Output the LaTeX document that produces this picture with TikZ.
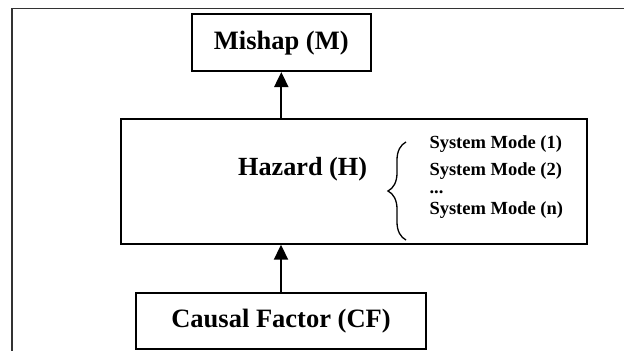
\documentclass[tikz,border=0pt]{standalone}
\usepackage{fontspec}
\setmainfont{Liberation Serif}
\usetikzlibrary{arrows.meta, positioning, decorations.pathreplacing}

\begin{document}
\begin{tikzpicture}[
    x=1pt, y=-1pt,
    box/.style={rectangle, draw, line width=2pt, inner sep=0pt, align=center, font=\bfseries\fontsize{26.5}{30}\selectfont},
    hazardtext/.style={anchor=base west, inner sep=0pt, font=\bfseries\fontsize{26.2}{30}\selectfont},
    modetext/.style={anchor=base west, inner sep=0pt, font=\bfseries\fontsize{18.5}{21}\selectfont},
    arrow/.style={-{Triangle[length=15pt, width=14pt]}, line width=2pt},
    frame/.style={line width=1.3pt, black!80},
    bracket/.style={decorate, decoration={brace, amplitude=18pt}, line width=1.3pt},
]

\useasboundingbox (0,0) rectangle (624,351);

% Outer frame (open at right and bottom)
\coordinate (ftr) at (624,8.3);
\coordinate (ftl) at (12,8.3);
\coordinate (fbl) at (12,351);
\draw[frame] (ftr) -- (ftl) -- (fbl);

% Boxes
\node[box, minimum width=179.3, minimum height=56.7] (mishap) at (281.3,42.7) {Mishap (M)};
\node[box, minimum width=466.3, minimum height=124.4] (hazard) at (353.8,181.5) {};
\node[box, minimum width=290.6, minimum height=56.3] (cf) at (281,320.8) {Causal Factor (CF)};

% Hazard contents
\node[hazardtext] (hname) at (238,175.5) {Hazard (H)};
\node[modetext] (m1) at (429.3,148.5) {System Mode (1)};
\node[modetext] (m2) at (429.3,175) {System Mode (2)};
\node[modetext] (mdots) at (429.3,193.5) {...};
\node[modetext] (mn) at (429.3,214) {System Mode (n)};

% Brace
\coordinate (btop) at (406,142);
\coordinate (bbot) at (406,240);
\draw[bracket] (bbot) -- (btop);

% Arrows
\draw[arrow] (cf) -- (cf |- hazard.south);
\draw[arrow] (hazard.north -| mishap) -- (mishap);

\end{tikzpicture}
\end{document}
